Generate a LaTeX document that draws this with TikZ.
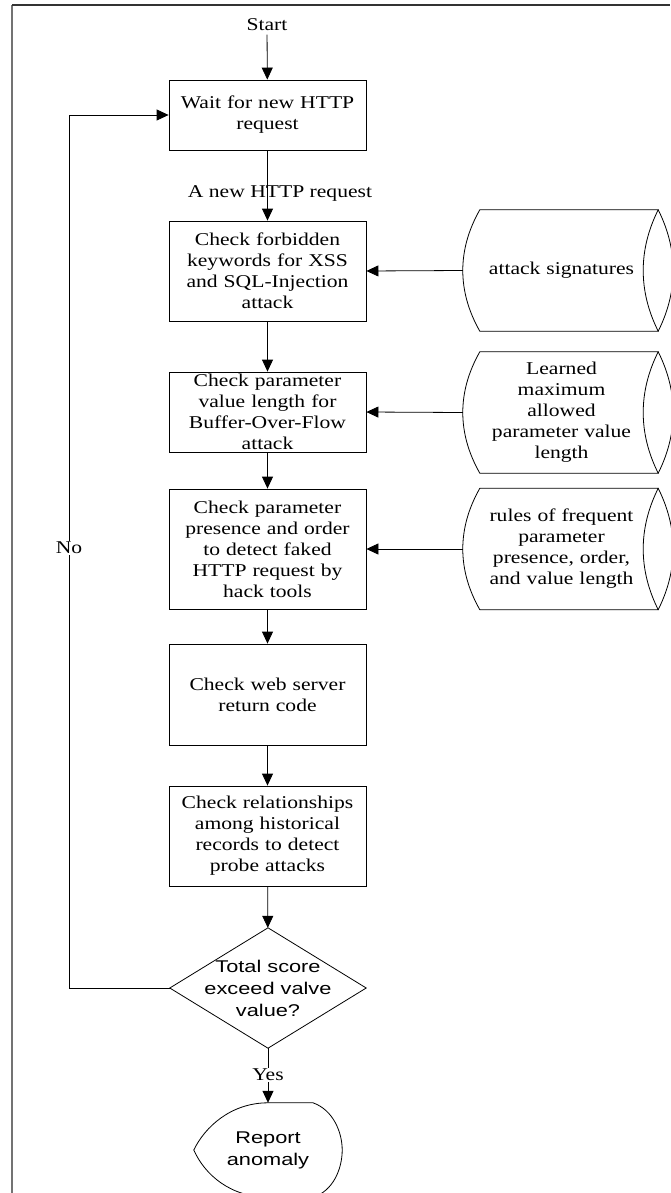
\documentclass[tikz,border=0pt]{standalone}
\usepackage{fontspec}
\setmainfont[FakeStretch=1.2]{Liberation Serif}
\newfontfamily\arialf[FakeStretch=1.28]{Liberation Sans}
\usetikzlibrary{arrows.meta}
\newcommand{\dsoutline}[1]{%
  \draw[shapeline] (#1.north west) .. controls +(-22.7,40) and +(-22.7,-40) .. (#1.south west)
    -- ([xshift=15pt]#1.south east) .. controls +(-20,-40) and +(-20,40) .. ([xshift=15pt]#1.north east) -- cycle;
  \draw[shapeline] ([xshift=15pt]#1.north east) .. controls +(20,40) and +(20,-40) .. ([xshift=15pt]#1.south east);
}
\begin{document}
\begin{tikzpicture}[x=1pt,y=-1pt,
  serift/.style={font=\fontsize{18}{21}\selectfont},
  sanst/.style={font=\arialf\fontsize{17}{22}\selectfont},
  shapeline/.style={line width=0.8pt, draw=black},
  procbox/.style={draw, line width=0.8pt, fill=white, minimum width=197pt, text width=195pt,
     align=center, inner sep=0pt, serift},
  dsnode/.style={minimum width=163pt, minimum height=121pt, text width=160pt, align=center, inner sep=0pt, serift},
  arr/.style={line width=0.8pt, -{Triangle[length=12pt,width=11pt]}},
  plainline/.style={line width=0.8pt}
]
\useasboundingbox (0,0) rectangle (670,1193);
\fill[white] (0,0) rectangle (670,1193);
\draw[line width=1.5pt, draw=black!55] (12,1193) -- (12,5);
\draw[line width=1.5pt, draw=black!80] (12,5) -- (670,5);

% main column
\node[serift] (start) at (267,25) {Start};
\node[procbox, minimum height=70pt] (b1) at (267.5,115) {Wait for new HTTP\\request};
\node[procbox, minimum height=100pt] (b2) at (267.5,271) {Check forbidden\\keywords for XSS\\and SQL-Injection\\attack};
\node[procbox, minimum height=80pt] (b3) at (267.5,412) {Check parameter\\value length for\\Buffer-Over-Flow\\attack};
\node[procbox, minimum height=120pt] (b4) at (267.5,549) {Check parameter\\presence and order\\to detect faked\\HTTP request by\\hack tools};
\node[procbox, minimum height=101pt] (b5) at (267.5,694.5) {Check web server\\return code};
\node[procbox, minimum height=100pt] (b6) at (267.5,836) {Check relationships\\among historical\\records to detect\\probe attacks};
\node[minimum width=196pt, minimum height=120pt, inner sep=0pt, align=center, sanst] (dia) at (268,988) {Total score\\exceed valve\\value?};
\draw[shapeline] (dia.north) -- (dia.east) -- (dia.south) -- (dia.west) -- cycle;
\node[minimum width=148pt, minimum height=94pt, inner sep=0pt, align=center, sanst] (rep) at (268,1150) {Report\\anomaly};
\draw[shapeline] (rep.north) -- ([xshift=45pt]rep.north)
  .. controls +(20,7) and +(0,-18) .. (rep.east)
  .. controls +(0,19) and +(20,-6) .. ([xshift=45pt]rep.south)
  -- (rep.south)
  .. controls +(-37,0) and +(11,25) .. (rep.west)
  .. controls +(11,-23) and +(-37,0) .. (rep.north);

% data stores
\node[dsnode] (ds1) at (561.5,270.5) {attack signatures};
\node[dsnode] (ds2) at (561.5,412.5) {Learned\\maximum\\allowed\\parameter value\\length};
\node[dsnode] (ds3) at (561.5,549) {rules of frequent\\parameter\\presence, order,\\and value length};
\dsoutline{ds1}
\dsoutline{ds2}
\dsoutline{ds3}

% connectors
\draw[arr] (start) -- (b1);
\draw[arr] (b1) -- (b2);
\node[serift] (newreq) at (280,193) {A new HTTP request};
\draw[arr] (b2) -- (b3);
\draw[arr] (b3) -- (b4);
\draw[arr] (b4) -- (b5);
\draw[arr] (b5) -- (b6);
\draw[arr] (b6) -- (dia);
\draw[arr] (dia.south) -- (rep.north);
\node[serift, fill=white, inner sep=1pt] (yes) at (268,1075) {Yes};
\draw[arr] ([xshift=-17pt]ds1.west) -- (b2.east);
\draw[arr] ([xshift=-17pt]ds2.west) -- (b3.east);
\draw[arr] ([xshift=-17pt]ds3.west) -- (b4.east);
\coordinate (loopx) at (69,0);
\draw[arr] (dia.west) -- (dia.west -| loopx) -- (b1.west -| loopx) -- (b1.west);
\node[serift, fill=white, inner sep=1pt] (no) at (69,548) {No};
\end{tikzpicture}
\end{document}
